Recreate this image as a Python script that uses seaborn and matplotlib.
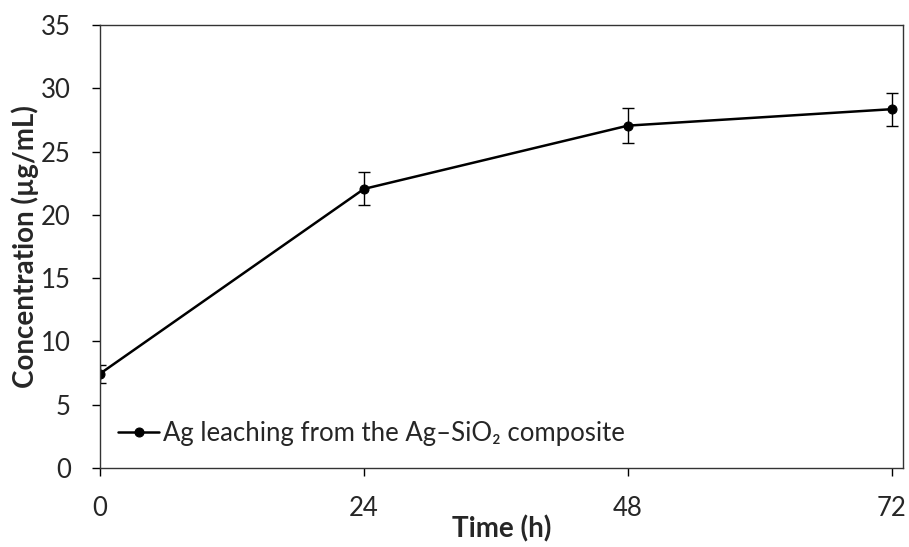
import matplotlib
matplotlib.use("Agg")
from matplotlib import pyplot as plt
import numpy as np
import pandas
import seaborn as sns

# data
time_h = [0, 24, 48, 72]
conc = [7.45, 22.05, 27.05, 28.35]
conc_err = [0.7, 1.3, 1.4, 1.3]
x_ticks = [0, 24, 48, 72]
y_ticks = [0, 5, 10, 15, 20, 25, 30, 35]
series_name = "Ag leaching from the Ag\u2013SiO\u2082 composite"

dataframe = pandas.DataFrame({"Time (h)": time_h, "Concentration": conc, "err": conc_err})

sns.set_style("ticks")
plt.rcParams['font.family'] = ['Lato', 'DejaVu Sans']

fig = plt.figure(figsize=(9.09, 5.47), dpi=100)
ax1 = fig.add_axes([100 / 909, 1 - 468 / 547, 803 / 909, 443 / 547])

g = sns.lineplot(data=dataframe, x="Time (h)", y="Concentration", ax=ax1, color="black",
                 linewidth=1.8, marker="o", markersize=6.5, markeredgecolor="black",
                 label=series_name)
ax1.errorbar(dataframe["Time (h)"], dataframe["Concentration"], yerr=dataframe["err"],
             fmt="none", ecolor="black", elinewidth=1.0, capsize=4, capthick=1.0)

# Plot settings
ax1.set_xlim(0, 73)
ax1.set_ylim(0, 35)
ax1.set_xticks(x_ticks)
ax1.set_yticks(y_ticks)
ax1.tick_params(axis="both", labelsize=18.5, length=6, width=1, color="black", direction="out")
ax1.tick_params(axis="x", pad=14)
ax1.tick_params(axis="y", pad=15)
for side in ["top", "right", "left", "bottom"]:
    ax1.spines[side].set_visible(True)
    ax1.spines[side].set_color("#333333")
    ax1.spines[side].set_linewidth(1.0)

ax1.set_xlabel("Time (h)", fontsize=20, fontweight="bold", labelpad=-4)
ax1.set_ylabel("Concentration (\u00b5g/mL)", fontsize=20, fontweight="bold", labelpad=1)

ax1.legend(loc="lower left", bbox_to_anchor=(0.0, 0.01), frameon=False, fontsize=18.5,
           handlelength=1.6, handletextpad=0.15, borderaxespad=0.3)

fig.savefig("out.png", dpi=100, facecolor="white")
